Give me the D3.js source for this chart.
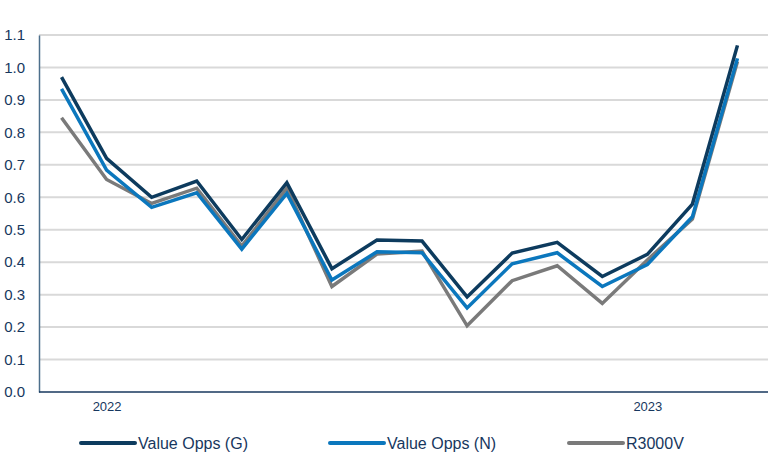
<!DOCTYPE html>
<html>
<head>
<meta charset="utf-8">
<script src="https://cdn.jsdelivr.net/npm/d3@7"></script>
<style>
  body { margin: 0; background: #fff; }
  text { font-family: "Liberation Sans", Arial, sans-serif; }
</style>
</head>
<body>
<svg width="775" height="459"></svg>
<script>
// monthly points, Dec 2021 .. Mar 2023
const months = ["2021-12", "2022-01", "2022-02", "2022-03", "2022-04", "2022-05", "2022-06", "2022-07",
  "2022-08", "2022-09", "2022-10", "2022-11", "2022-12", "2023-01", "2023-02", "2023-03"];
const yearLabels = { "2022-01": "2022", "2023-01": "2023" };

const valueOppsG = [0.97, 0.72, 0.60, 0.65, 0.47, 0.645, 0.38, 0.468, 0.465, 0.293, 0.428, 0.461, 0.356, 0.424, 0.579, 1.068];
const valueOppsN = [0.934, 0.684, 0.569, 0.614, 0.44, 0.612, 0.345, 0.432, 0.429, 0.259, 0.395, 0.429, 0.325, 0.393, 0.54, 1.028];
const r3000v     = [0.845, 0.655, 0.581, 0.628, 0.45, 0.628, 0.325, 0.425, 0.434, 0.204, 0.343, 0.389, 0.273, 0.407, 0.533, 1.018];

const yTicks = [0, 0.1, 0.2, 0.3, 0.4, 0.5, 0.6, 0.7, 0.8, 0.9, 1.0, 1.1];

const series = [
  { name: "Value Opps (G)", values: valueOppsG, color: "#0d3b5e" },
  { name: "Value Opps (N)", values: valueOppsN, color: "#0b77bd" },
  { name: "R3000V", values: r3000v, color: "#7a7a7a" }
];

const svg = d3.select("svg");
const plotLeft = 39, plotRight = 768, plotTop = 35, plotBottom = 392;

const x = d3.scalePoint()
  .domain(months)
  .range([plotLeft, 760])
  .padding(0.5);

const y = d3.scaleLinear()
  .domain([0, 1.1])
  .range([plotBottom, plotTop]);

// gridlines
svg.append("g")
  .selectAll("line")
  .data(yTicks.slice(1))
  .enter().append("line")
  .attr("x1", plotLeft)
  .attr("x2", plotRight)
  .attr("y1", d => y(d))
  .attr("y2", d => y(d))
  .attr("stroke", "#d9d9d9")
  .attr("stroke-width", 2);

// y axis
const yAxis = svg.append("g")
  .attr("transform", "translate(" + plotLeft + ",0)")
  .call(d3.axisLeft(y).tickValues(yTicks).tickFormat(d3.format(".1f")).tickSize(0).tickPadding(14));
yAxis.select(".domain").attr("stroke", "#4d6f8c").attr("stroke-width", 1.5);
yAxis.selectAll("text")
  .attr("fill", "#17375e")
  .style("font-size", "15px");

// x axis
const xAxis = svg.append("g")
  .attr("transform", "translate(0," + plotBottom + ")")
  .call(d3.axisBottom(x).tickSize(0).tickPadding(10).tickFormat(d => yearLabels[d] || ""));
xAxis.select(".domain")
  .attr("d", "M" + plotLeft + ",0H" + plotRight)
  .attr("stroke", "#17375e")
  .attr("stroke-width", 1.5);
xAxis.selectAll("text")
  .attr("fill", "#17375e")
  .style("font-size", "13px");

// lines
const line = d3.line()
  .x((d, i) => x(months[i]))
  .y(d => y(d));

svg.append("g")
  .selectAll("path")
  .data(series.slice().reverse())
  .enter().append("path")
  .attr("d", d => line(d.values))
  .attr("fill", "none")
  .attr("stroke", d => d.color)
  .attr("stroke-width", 3.5)
  .attr("stroke-linejoin", "miter");

// legend
const legendX = [81, 330, 569];
const legend = svg.append("g")
  .selectAll("g")
  .data(series)
  .enter().append("g")
  .attr("transform", (d, i) => "translate(" + legendX[i] + ",443)");

legend.append("line")
  .attr("x1", 0)
  .attr("x2", 54)
  .attr("stroke", d => d.color)
  .attr("stroke-width", 4)
  .attr("stroke-linecap", "round");

legend.append("text")
  .attr("x", 57)
  .attr("y", 6)
  .attr("fill", "#17375e")
  .style("font-size", "16px")
  .text(d => d.name);
</script>
</body>
</html>
